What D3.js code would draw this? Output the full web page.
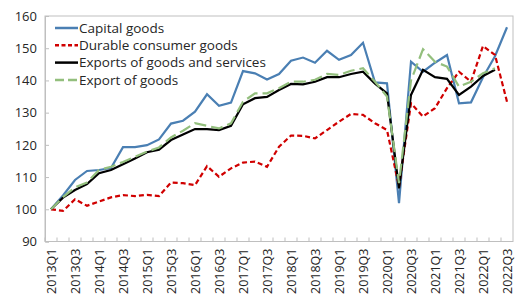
<!DOCTYPE html>
<html>
<head>
<meta charset="utf-8">
<script src="https://cdnjs.cloudflare.com/ajax/libs/d3/7.8.5/d3.min.js"></script>
<style>
  body { margin: 0; background: #fff; }
  text { font-family: "Open Sans", "Noto Sans", sans-serif; fill: #262626; }
</style>
</head>
<body>
<div id="chart"></div>
<script>
// quarters on the x axis
var quarters = ["2013Q1","2013Q2","2013Q3","2013Q4","2014Q1","2014Q2","2014Q3","2014Q4",
  "2015Q1","2015Q2","2015Q3","2015Q4","2016Q1","2016Q2","2016Q3","2016Q4",
  "2017Q1","2017Q2","2017Q3","2017Q4","2018Q1","2018Q2","2018Q3","2018Q4",
  "2019Q1","2019Q2","2019Q3","2019Q4","2020Q1","2020Q2","2020Q3","2020Q4",
  "2021Q1","2021Q2","2021Q3","2021Q4","2022Q1","2022Q2","2022Q3"];

var capitalGoods = [100, 104.3, 109.1, 111.9, 112.2, 112.8, 119.3, 119.3, 119.9, 121.7,
  126.6, 127.5, 130.3, 135.7, 132.1, 133.1, 142.9, 142.2, 140.3, 142.0,
  146.1, 147.1, 145.5, 149.2, 146.4, 147.9, 151.7, 139.4, 139.1, 101.9,
  145.8, 142.7, 145.5, 147.9, 132.9, 133.2, 141.0, 147.5, 156.5];

var durableGoods = [100, 99.5, 103.1, 101.1, 102.4, 103.7, 104.4, 104.1, 104.5, 104.1,
  108.3, 108.1, 107.5, 113.4, 110.1, 112.7, 114.5, 114.8, 113.2, 119.4,
  122.9, 122.8, 122.0, 124.6, 127.2, 129.6, 129.3, 126.7, 124.6, 107.0,
  132.9, 128.8, 131.4, 137.6, 142.7, 139.6, 150.7, 147.9, 133.4];

var exportsGoodsServices = [100, 103.6, 106.0, 107.8, 111.2, 112.2, 114.0, 115.8, 117.7, 118.5,
  121.5, 123.2, 124.9, 124.9, 124.6, 125.9, 132.6, 134.5, 134.9, 137.0,
  138.9, 138.8, 139.6, 141.0, 141.0, 142.0, 142.7, 139.0, 136.0, 106.5,
  135.5, 143.3, 141.0, 140.5, 135.5, 138.1, 141.4, 143.3, null];

var exportGoods = [100, 103.8, 106.8, 108.3, 112.2, 113.2, 114.7, 116.3, 117.9, 119.2,
  122.3, 124.4, 126.7, 125.9, 125.1, 126.7, 133.4, 136.0, 136.0, 137.6,
  139.6, 139.6, 140.2, 142.0, 141.7, 143.0, 143.8, 139.6, 135.0, 108.1,
  140.0, 149.7, 145.8, 144.3, 138.1, 139.6, 142.2, 143.8, null];

var yTicks = [90, 100, 110, 120, 130, 140, 150, 160];

var series = [
  { name: "Capital goods", values: capitalGoods, color: "#4a7fb3", dash: null, width: 2.2 },
  { name: "Durable consumer goods", values: durableGoods, color: "#d00000", dash: "5,3", width: 2.2 },
  { name: "Exports of goods and services", values: exportsGoodsServices, color: "#000000", dash: null, width: 2.2 },
  { name: "Export of goods", values: exportGoods, color: "#93bf7d", dash: "12,5", width: 2.2 }
];

var W = 515, H = 296;
var margin = { top: 16, right: 2, bottom: 54.5, left: 45 };
var width = W - margin.left - margin.right;
var height = H - margin.top - margin.bottom;

var svg = d3.select("#chart").append("svg")
  .attr("width", W)
  .attr("height", H)
  .append("g")
  .attr("transform", "translate(" + margin.left + "," + margin.top + ")");

var x = d3.scaleBand().domain(quarters).range([0, width]);
var y = d3.scaleLinear().domain([90, 160]).range([height, 0]);

// plot frame
svg.append("rect")
  .attr("x", 0).attr("y", 0)
  .attr("width", width).attr("height", height)
  .attr("fill", "none")
  .attr("stroke", "#bfbfbf")
  .attr("stroke-width", 1);

// y axis
var yAxis = svg.append("g")
  .call(d3.axisLeft(y).tickValues(yTicks).tickSize(-4).tickPadding(8));
yAxis.select(".domain").attr("stroke", "#bfbfbf");
yAxis.selectAll(".tick line").attr("stroke", "#bfbfbf");
yAxis.selectAll("text")
  .style("font-size", "13px")
  .style("font-family", "'Open Sans', sans-serif")
  .attr("fill", "#262626");

// x axis, ticks at band edges
var xAxis = svg.append("g")
  .attr("transform", "translate(0," + height + ")");
xAxis.append("line")
  .attr("x1", 0).attr("x2", width)
  .attr("stroke", "#bfbfbf");
xAxis.selectAll(".edge")
  .data(quarters)
  .enter().append("line")
  .attr("class", "edge")
  .attr("x1", function(d) { return x(d); })
  .attr("x2", function(d) { return x(d); })
  .attr("y1", 0).attr("y2", -4)
  .attr("stroke", "#bfbfbf");
xAxis.selectAll(".lab")
  .data(quarters.filter(function(d, i) { return i % 2 == 0; }))
  .enter().append("text")
  .attr("class", "lab")
  .attr("transform", function(d) {
    return "translate(" + (x(d) + x.bandwidth() / 2 + 4.5) + ",7) rotate(-90)";
  })
  .style("text-anchor", "end")
  .style("font-size", "12.5px")
  .text(function(d) { return d; });

// lines
var line = d3.line()
  .defined(function(d) { return d != null; })
  .x(function(d, i) { return x(quarters[i]) + x.bandwidth() / 2; })
  .y(function(d) { return y(d); });

series.forEach(function(s) {
  svg.append("path")
    .datum(s.values)
    .attr("fill", "none")
    .attr("stroke", s.color)
    .attr("stroke-width", s.width)
    .attr("stroke-dasharray", s.dash)
    .attr("stroke-linejoin", "miter")
    .attr("d", line);
});

// legend
var legend = svg.selectAll(".legend")
  .data(series)
  .enter().append("g")
  .attr("class", "legend")
  .attr("transform", function(d, i) { return "translate(10," + (12 + i * 17.3) + ")"; });
legend.append("line")
  .attr("x1", 0).attr("x2", 23)
  .attr("stroke", function(d) { return d.color; })
  .attr("stroke-width", 2.5)
  .attr("stroke-dasharray", function(d) { return d.dash == "5,3" ? "4,2.5" : (d.dash ? "9,4" : null); });
legend.append("text")
  .attr("x", 24)
  .attr("dy", "0.35em")
  .style("font-size", "13.5px")
  .text(function(d) { return d.name; });
</script>
</body>
</html>
